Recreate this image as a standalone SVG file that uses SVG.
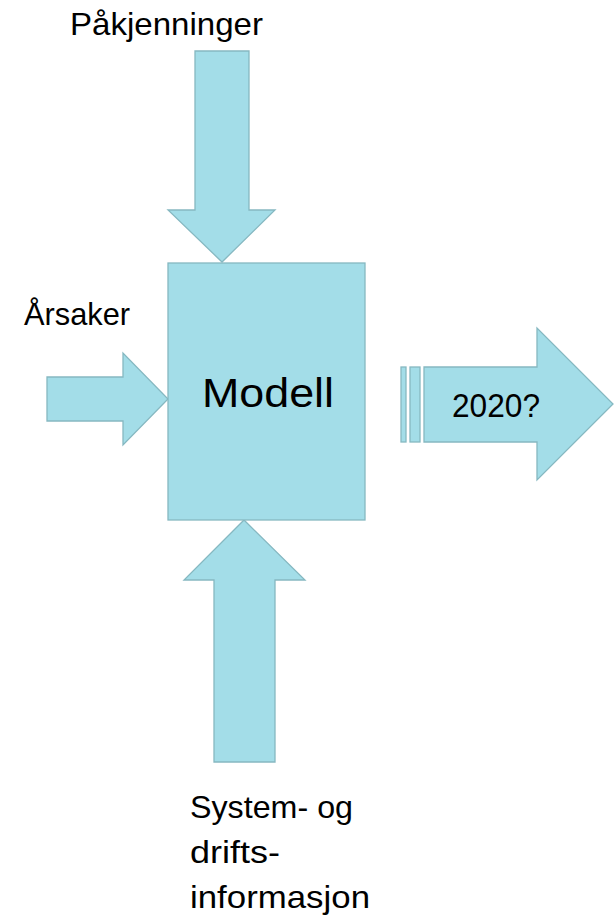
<svg xmlns="http://www.w3.org/2000/svg" width="615" height="918" viewBox="0 0 615 918">
  <style>
    .shape { fill: #a3dde8; stroke: #86b8c1; stroke-width: 1.3; stroke-linejoin: miter; }
    .lbl { font-family: "Liberation Sans", Arial, sans-serif; fill: #000; }
  </style>
  <rect width="615" height="918" fill="#ffffff"/>

  <g id="connectors">
    <!-- top input arrow -->
    <polygon class="shape" points="195,51 249,51 249,210 275,210 222,262 168,210 195,210"/>
    <!-- left input arrow -->
    <polygon class="shape" points="47,377 123,377 123,353 168,399 123,445 123,421 47,421"/>
    <!-- bottom input arrow -->
    <polygon class="shape" points="214,762 275,762 275,580 305,580 244,520 184,580 214,580"/>
  </g>

  <g id="modell">
    <rect class="shape" x="168" y="263" width="197" height="257"/>
    <text class="lbl" x="268" y="407" font-size="40" text-anchor="middle" textLength="132" lengthAdjust="spacingAndGlyphs">Modell</text>
  </g>

  <g id="output-2020">
    <rect class="shape" x="401" y="367" width="5" height="75"/>
    <rect class="shape" x="410" y="367" width="10" height="75"/>
    <polygon class="shape" points="424,367 537,367 537,328 613,404 537,480 537,442 424,442"/>
    <text class="lbl" x="452" y="417" font-size="33" textLength="88" lengthAdjust="spacingAndGlyphs">2020?</text>
  </g>

  <g id="label-pakjenninger">
    <text class="lbl" x="70" y="35" font-size="32" textLength="193" lengthAdjust="spacingAndGlyphs">Påkjenninger</text>
  </g>

  <g id="label-arsaker">
    <text class="lbl" x="24" y="325" font-size="32" textLength="106" lengthAdjust="spacingAndGlyphs">Årsaker</text>
  </g>

  <g id="label-system">
    <text class="lbl" font-size="32">
      <tspan x="190" y="818" textLength="163" lengthAdjust="spacingAndGlyphs">System- og</tspan>
      <tspan x="190" y="863" textLength="90" lengthAdjust="spacingAndGlyphs">drifts-</tspan>
      <tspan x="190" y="908" textLength="180" lengthAdjust="spacingAndGlyphs">informasjon</tspan>
    </text>
  </g>
</svg>
